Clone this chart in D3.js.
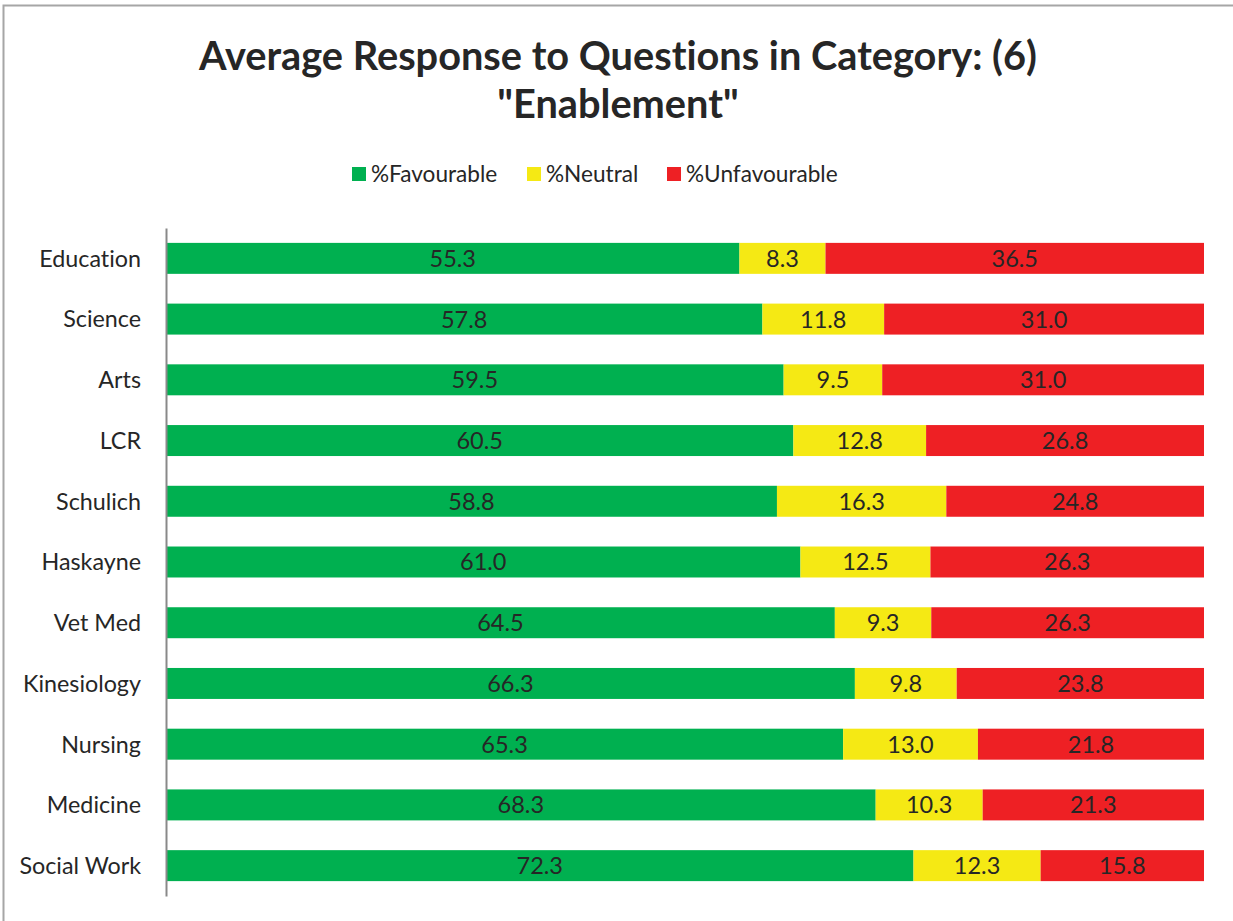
<!DOCTYPE html>
<html>
<head>
<meta charset="utf-8">
<script src="https://cdn.jsdelivr.net/npm/d3@7"></script>
<style>
  html, body { margin: 0; padding: 0; background: #fff; }
  svg { display: block; }
  text { font-family: "Lato", "Open Sans", sans-serif; fill: #262626; font-variant-ligatures: none; font-feature-settings: "liga" 0; }
</style>
</head>
<body>
<svg id="chart" width="1233" height="921"></svg>
<script>
const categories = ["Education","Science","Arts","LCR","Schulich","Haskayne","Vet Med","Kinesiology","Nursing","Medicine","Social Work"];
const favourable   = [55.3, 57.8, 59.5, 60.5, 58.8, 61.0, 64.5, 66.3, 65.3, 68.3, 72.3];
const neutral      = [8.3, 11.8, 9.5, 12.8, 16.3, 12.5, 9.3, 9.8, 13.0, 10.3, 12.3];
const unfavourable = [36.5, 31.0, 31.0, 26.8, 24.8, 26.3, 26.3, 23.8, 21.8, 21.3, 15.8];
const seriesNames  = ["%Favourable", "%Neutral", "%Unfavourable"];
const titleLines   = ["Average Response to Questions in Category: (6)", "\"Enablement\""];

const colors = ["#00b050", "#f5e914", "#ee2024"];

const rows = categories.map((c, i) => ({
  cat: c, "%Favourable": favourable[i], "%Neutral": neutral[i], "%Unfavourable": unfavourable[i]
}));

const svg = d3.select("#chart");

// outer border
svg.append("rect").attr("x", 3.5).attr("y", 5.5).attr("width", 1240).attr("height", 930)
  .attr("fill", "none").attr("stroke", "#a6a6a6").attr("stroke-width", 2);

// title
const t1 = svg.append("text").attr("x", 618).attr("y", 70).attr("text-anchor", "middle")
  .attr("font-weight", "bold").attr("font-size", 36).attr("fill", "#231f20").text(titleLines[0]);
const w1 = t1.node().getComputedTextLength();
const fs = 36 * 838 / w1;
t1.attr("font-size", fs);
svg.append("text").attr("x", 618).attr("y", 118).attr("text-anchor", "middle")
  .attr("font-weight", "bold").attr("font-size", fs).attr("fill", "#231f20").text(titleLines[1]);

// scales
const x = d3.scaleLinear().domain([0, 1]).range([166, 1204]);
const y = d3.scaleBand().domain(categories).range([228, 896]).paddingInner(0.49).paddingOuter(0.245);
const color = d3.scaleOrdinal().domain(seriesNames).range(colors);

const stack = d3.stack().keys(seriesNames).offset(d3.stackOffsetExpand);
const series = stack(rows);

const g = svg.append("g");
const layers = g.selectAll("g.layer").data(series).join("g").attr("class", "layer")
  .attr("fill", d => color(d.key));
layers.selectAll("rect").data(d => d).join("rect")
  .attr("x", d => x(d[0]))
  .attr("y", d => y(d.data.cat))
  .attr("width", d => x(d[1]) - x(d[0]))
  .attr("height", y.bandwidth());

// value labels
series.forEach(s => {
  g.selectAll(null).data(s).join("text")
    .attr("x", d => (x(d[0]) + x(d[1])) / 2)
    .attr("y", d => y(d.data.cat) + y.bandwidth() / 2)
    .attr("dy", "0.36em")
    .attr("text-anchor", "middle")
    .attr("font-size", 23.5)
    .text(d => d.data[s.key].toFixed(1));
});

// axis
const axis = svg.append("g").attr("transform", "translate(166,0)")
  .call(d3.axisLeft(y).tickSize(0).tickPadding(25));
axis.select(".domain").attr("stroke", "#898989").attr("stroke-width", 2);
axis.selectAll(".tick text").attr("font-size", 23.3).attr("fill", "#262626")
  .attr("dy", "0.36em")
  .style("font-family", "Lato, 'Open Sans', sans-serif");

// legend
const legendX = [352, 527, 667];
const lg = svg.append("g");
seriesNames.forEach((n, i) => {
  lg.append("rect").attr("x", legendX[i]).attr("y", 167).attr("width", 14).attr("height", 14).attr("fill", colors[i]);
  lg.append("text").attr("x", legendX[i] + 19).attr("y", 174).attr("dy", "0.36em")
    .attr("font-size", 22.6).text(n);
});
</script>
</body>
</html>
